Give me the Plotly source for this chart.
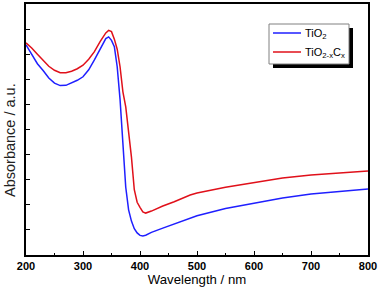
import plotly.graph_objects as go

wl_tio2 = [200, 210, 220, 230, 240, 250, 260, 270, 280, 290, 300, 310, 320, 330, 340, 345, 350, 355, 360, 365, 370, 375, 380, 385, 390, 395, 400, 405, 410, 420, 440, 460, 488, 500, 550, 600, 650, 700, 750, 800]
abs_tio2 = [8.37, 8.0, 7.62, 7.35, 7.05, 6.85, 6.75, 6.76, 6.85, 6.96, 7.1, 7.38, 7.77, 8.22, 8.62, 8.69, 8.55, 8.3, 7.5, 6.2, 4.3, 2.7, 1.8, 1.35, 1.05, 0.88, 0.78, 0.76, 0.79, 0.9, 1.07, 1.23, 1.47, 1.56, 1.85, 2.07, 2.27, 2.43, 2.53, 2.63]

wl_tio2c = [200, 210, 220, 230, 240, 250, 260, 270, 280, 290, 300, 310, 320, 330, 340, 345, 350, 355, 360, 365, 370, 375, 380, 385, 390, 395, 400, 405, 410, 420, 440, 460, 488, 500, 550, 600, 650, 700, 750, 800]
abs_tio2c = [8.45, 8.25, 8.0, 7.75, 7.52, 7.36, 7.26, 7.26, 7.32, 7.42, 7.56, 7.8, 8.1, 8.5, 8.85, 8.95, 8.9, 8.6, 8.2, 7.5, 6.5, 5.9, 5.0, 3.9, 2.6, 2.1, 1.9, 1.72, 1.67, 1.75, 1.95, 2.12, 2.39, 2.47, 2.7, 2.9, 3.07, 3.19, 3.27, 3.35]

series_names = ["TiO<sub>2</sub>", "TiO<sub>2-x</sub>C<sub>x</sub>"]
series_colors = ["#1f1fff", "#e0101a"]

x_ticks = [200, 300, 400, 500, 600, 700, 800]
y_ticks = [1, 2, 3, 4, 5, 6, 7, 8, 9]

# plot area in pixels (for the hand-drawn legend box)
L, R, T, B = 26, 368, 4, 255


def px(x):
    return (x - L) / (R - L)


def py(y):
    return (B - y) / (B - T)


fig = go.Figure()
fig.add_trace(go.Scatter(x=wl_tio2, y=abs_tio2, mode="lines", name=series_names[0],
                         line=dict(color=series_colors[0], width=1.5)))
fig.add_trace(go.Scatter(x=wl_tio2c, y=abs_tio2c, mode="lines", name=series_names[1],
                         line=dict(color=series_colors[1], width=1.5)))

fig.update_layout(
    width=378, height=292,
    margin=dict(l=L, r=378 - R, t=T, b=292 - B, autoexpand=False),
    paper_bgcolor="white", plot_bgcolor="white",
    font=dict(family="Liberation Sans, Arial, sans-serif", color="black"),
    showlegend=False,
    xaxis=dict(range=[200, 800], tickvals=x_ticks, ticks="inside", ticklen=4, tickwidth=1.2,
               tickcolor="black", showline=True, linecolor="black", linewidth=1.5, mirror=True,
               showgrid=False, zeroline=False,
               tickfont=dict(size=11, family="Liberation Sans, Arial", weight="bold"),
               minor=dict(ticks="inside", ticklen=2, dtick=50, tickcolor="black", showgrid=False),
               title=dict(text="Wavelength / nm", font=dict(size=13.2), standoff=4)),
    yaxis=dict(range=[0, 10], tickvals=y_ticks, ticks="inside", ticklen=4, tickwidth=1.2,
               tickcolor="black", showticklabels=False, showline=True, linecolor="black",
               linewidth=1.5, mirror=True, showgrid=False, zeroline=False),
)

# y-axis title (placed as annotation to match reference position)
fig.add_annotation(xref="paper", yref="paper", x=px(10), y=py(140),
                   xanchor="center", yanchor="middle", textangle=-90,
                   text="Absorbance / a.u.", showarrow=False,
                   font=dict(size=14.5, color="#222222"))

# legend: shadow, box, samples, labels
fig.add_shape(type="rect", xref="paper", yref="paper",
              x0=px(273), x1=px(353), y0=py(68), y1=py(28),
              fillcolor="black", line=dict(width=0), layer="above")
fig.add_shape(type="rect", xref="paper", yref="paper",
              x0=px(269), x1=px(349), y0=py(64), y1=py(24),
              fillcolor="white", line=dict(color="#808080", width=1), layer="above")
for i, (name, col) in enumerate(zip(series_names, series_colors)):
    yy = 33 + 19 * i
    fig.add_shape(type="line", xref="paper", yref="paper",
                  x0=px(273), x1=px(301), y0=py(yy), y1=py(yy),
                  line=dict(color=col, width=1.5), layer="above")
    fig.add_annotation(xref="paper", yref="paper", x=px(303), y=py(yy + 1),
                       xanchor="left", yanchor="middle", text=name, showarrow=False,
                       font=dict(size=11, color="black"))

fig.write_html("out.html", post_script="document.body.style.margin='0px';",
               config={"displayModeBar": False})
